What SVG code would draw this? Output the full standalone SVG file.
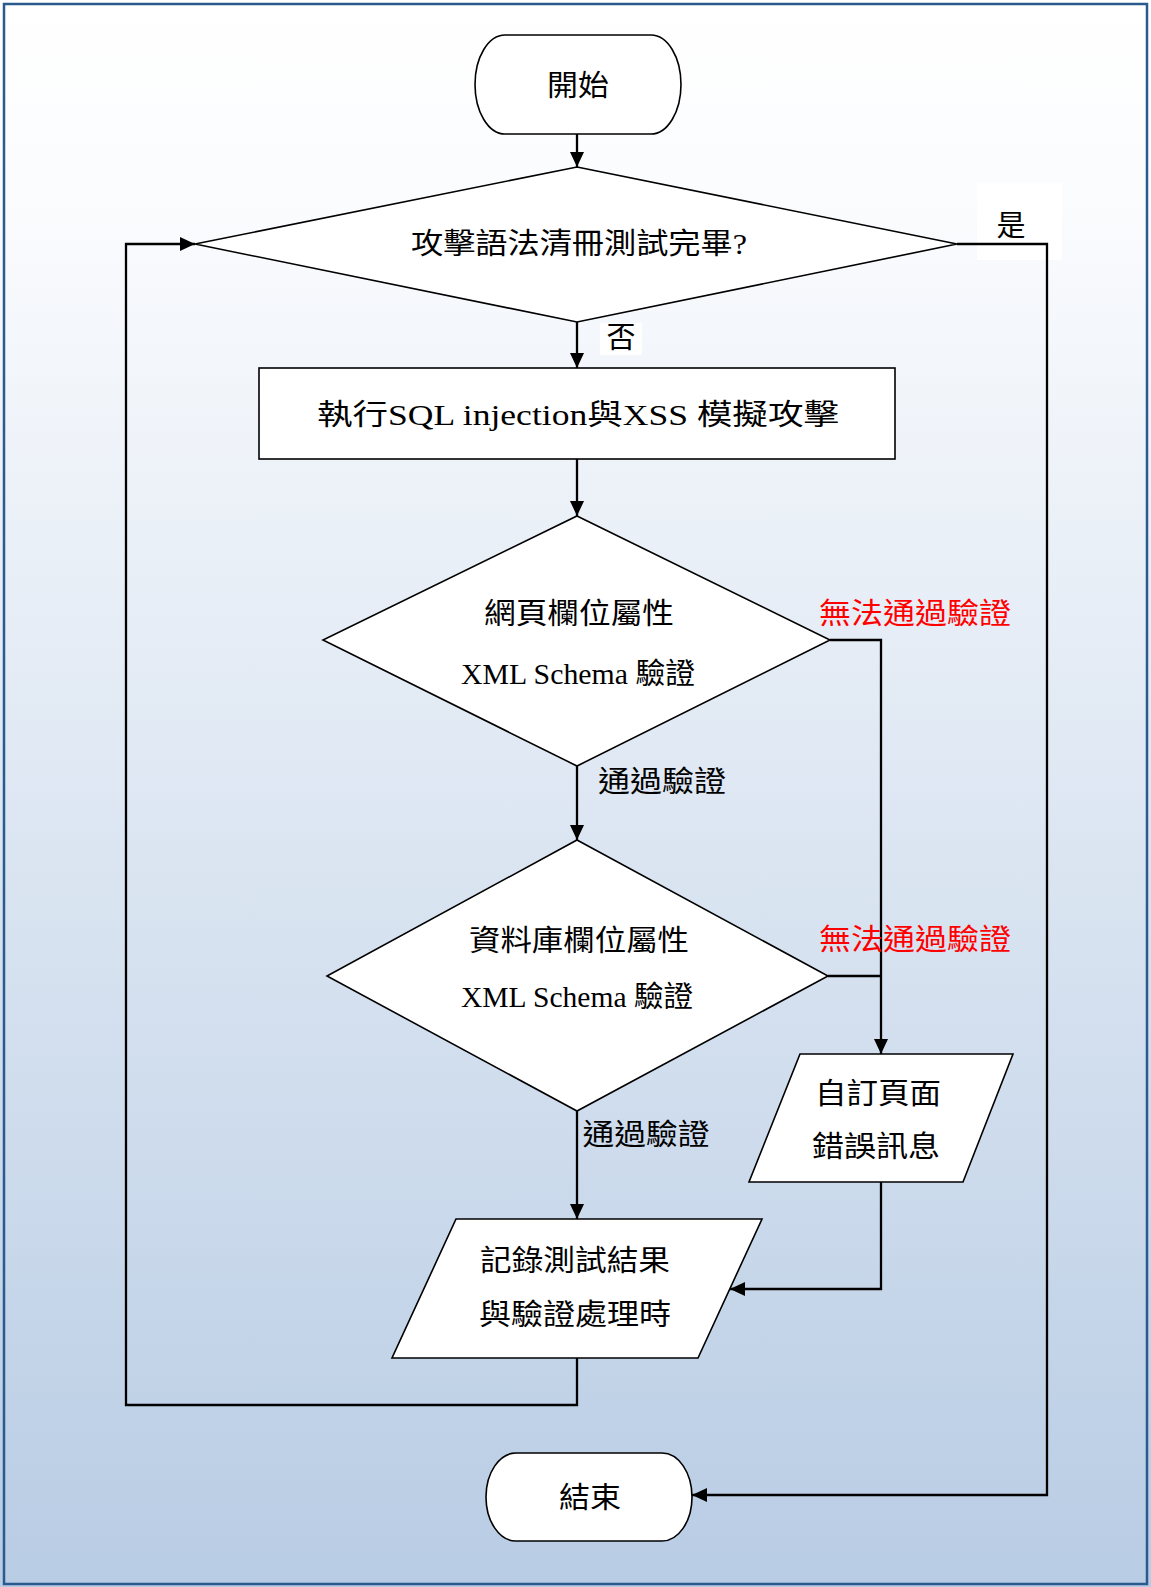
<svg xmlns="http://www.w3.org/2000/svg" width="1151" height="1587" viewBox="0 0 1151 1587">
<defs>
<linearGradient id="bg" x1="0" y1="0" x2="0" y2="1">
<stop offset="0" stop-color="#ffffff"/>
<stop offset="0.12" stop-color="#fbfcfe"/>
<stop offset="1" stop-color="#b8cce4"/>
</linearGradient>
<marker id="arr" markerWidth="15" markerHeight="14" refX="15" refY="7" orient="auto" markerUnits="userSpaceOnUse">
<path d="M0,0 L15,7 L0,14 Z" fill="#000"/>
</marker>
<style>
.shape{fill:#ffffff;stroke:#000;stroke-width:1.6}
.conn{fill:none;stroke:#000;stroke-width:2.3}
.t{font-family:"Liberation Serif","Noto Sans CJK TC",serif;font-size:29px;fill:#000;text-anchor:middle;dominant-baseline:central}
.red{fill:#ff0000}
.lblbg{fill:#ffffff}
</style>
</defs>
<rect x="0" y="0" width="1151" height="1587" fill="url(#bg)"/>
<rect x="4" y="4" width="1143" height="1580" fill="none" stroke="#2b5a8f" stroke-width="2.5"/>

<g id="labels-bg">
<rect class="lblbg" x="977" y="183" width="85" height="77"/>
<rect class="lblbg" x="600" y="323" width="42" height="32"/>
</g>

<g id="connectors">
<path class="conn" d="M577,134 V167" marker-end="url(#arr)"/>
<path class="conn" d="M577,322 V368" marker-end="url(#arr)"/>
<path class="conn" d="M577,459 V516" marker-end="url(#arr)"/>
<path class="conn" d="M577,766 V840" marker-end="url(#arr)"/>
<path class="conn" d="M577,1111 V1219" marker-end="url(#arr)"/>
<path class="conn" d="M830,640 H881 V1054" marker-end="url(#arr)"/>
<path class="conn" d="M828,976 H881"/>
<path class="conn" d="M881,1182 V1289 H730" marker-end="url(#arr)"/>
<path class="conn" d="M577,1358 V1405 H126 V244 H195" marker-end="url(#arr)"/>
<path class="conn" d="M957,244 H1047 V1495 H692" marker-end="url(#arr)"/>
</g>

<g id="start">
<path class="shape" d="M505,35 H651 A30,49.5 0 0 1 651,134 H505 A30,49.5 0 0 1 505,35 Z"/>
<text class="t" x="578" y="86" textLength="62" lengthAdjust="spacingAndGlyphs">開始</text>
</g>

<g id="decision-done">
<polygon class="shape" points="577,167 957,244 577,322 195,244"/>
<text class="t" x="579" y="244" textLength="336" lengthAdjust="spacingAndGlyphs">攻擊語法清冊測試完畢?</text>
</g>

<g id="label-yes"><text class="t" x="1011" y="226">是</text></g>
<g id="label-no"><text class="t" x="621" y="338">否</text></g>

<g id="attack">
<rect class="shape" x="259" y="368" width="636" height="91"/>
<text class="t" x="578" y="415" textLength="522" lengthAdjust="spacingAndGlyphs">執行SQL injection與XSS 模擬攻擊</text>
</g>

<g id="decision-web">
<polygon class="shape" points="577,516 830,640 577,766 323,640"/>
<text class="t" x="579" y="614" textLength="190" lengthAdjust="spacingAndGlyphs">網頁欄位屬性</text>
<text class="t" x="578" y="674" textLength="234" lengthAdjust="spacingAndGlyphs">XML Schema 驗證</text>
</g>

<g id="label-fail-1"><text class="t red" x="915" y="614" textLength="192" lengthAdjust="spacingAndGlyphs">無法通過驗證</text></g>
<g id="label-pass-1"><text class="t" x="662" y="782" textLength="128" lengthAdjust="spacingAndGlyphs">通過驗證</text></g>

<g id="decision-db">
<polygon class="shape" points="577,840 828,976 577,1111 327,976"/>
<text class="t" x="579" y="941" textLength="220" lengthAdjust="spacingAndGlyphs">資料庫欄位屬性</text>
<text class="t" x="577" y="997" textLength="232" lengthAdjust="spacingAndGlyphs">XML Schema 驗證</text>
</g>

<g id="label-fail-2"><text class="t red" x="915" y="940" textLength="192" lengthAdjust="spacingAndGlyphs">無法通過驗證</text></g>
<g id="label-pass-2"><text class="t" x="646" y="1135" textLength="127" lengthAdjust="spacingAndGlyphs">通過驗證</text></g>

<g id="error-page">
<polygon class="shape" points="800,1054 1013,1054 963,1182 749,1182"/>
<text class="t" x="878" y="1094" textLength="126" lengthAdjust="spacingAndGlyphs">自訂頁面</text>
<text class="t" x="876" y="1147" textLength="128" lengthAdjust="spacingAndGlyphs">錯誤訊息</text>
</g>

<g id="record">
<polygon class="shape" points="456,1219 762,1219 698,1358 392,1358"/>
<text class="t" x="575" y="1261" textLength="190" lengthAdjust="spacingAndGlyphs">記錄測試結果</text>
<text class="t" x="575" y="1315" textLength="192" lengthAdjust="spacingAndGlyphs">與驗證處理時</text>
</g>

<g id="end">
<path class="shape" d="M516,1453 H662 A30,44 0 0 1 662,1541 H516 A30,44 0 0 1 516,1453 Z"/>
<text class="t" x="590" y="1498" textLength="62" lengthAdjust="spacingAndGlyphs">結束</text>
</g>
</svg>
